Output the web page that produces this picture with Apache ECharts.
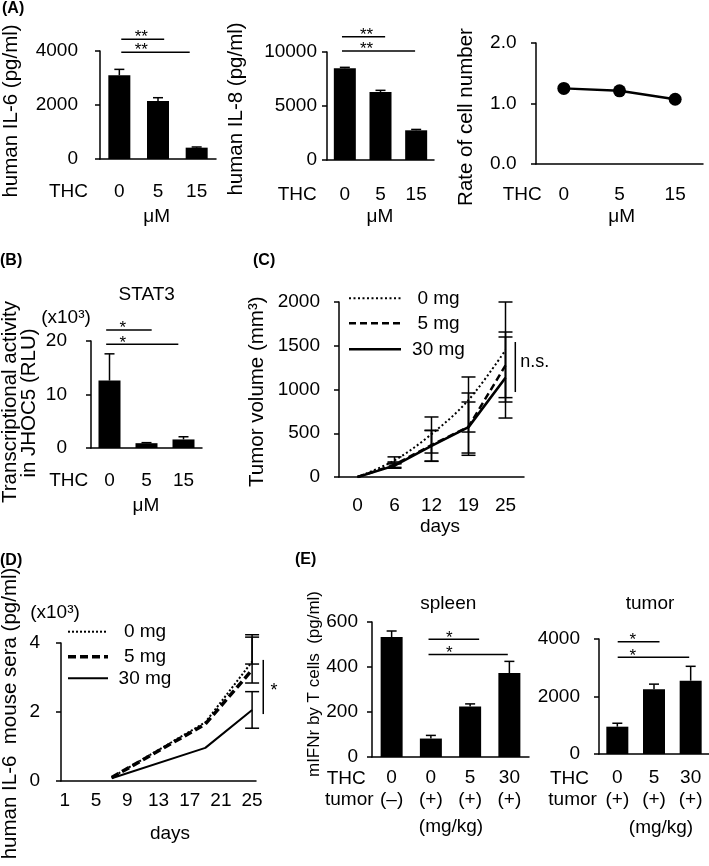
<!DOCTYPE html>
<html><head><meta charset="utf-8">
<script src="https://cdn.jsdelivr.net/npm/echarts@6/dist/echarts.min.js"></script>
<style>html,body{margin:0;padding:0;background:#fff}#c{width:709px;height:866px}</style>
</head><body><div id="c"></div>
<script>
// ================= DATA =================
// Panel A (THC, µM)
const aDoses = ['0', '5', '15'];
const aIL6 = [3100, 2150, 420];
const aIL6Sd = [220, 120, 25];
const aIL8 = [8500, 6300, 2750];
const aIL8Sd = [80, 150, 80];
const aRate = [1.25, 1.21, 1.07];
const aRateSd = [0.04, 0.04, 0.05];
// significance bars: [fromOffset, toOffset, yValue, starOffset] (offsets in category bands from first category)
const aIL6Sig = [[0.05, 1.16, 4433, 0.57], [0.05, 1.82, 3952, 0.57]];
const aIL8Sig = [[-0.08, 1.13, 11417, 0.61], [-0.08, 1.97, 10093, 0.61]];

// Panel B (STAT3)
const bDoses = ['0', '5', '15'];
const bStat3 = [12.6, 0.9, 1.6];
const bStat3Sd = [5.0, 0.1, 0.5];
const bSig = [[-0.09, 1.14, 22.06, 0.36], [-0.09, 1.86, 19.38, 0.36]];

// Panel C (tumor volume)
const cDays = ['0', '6', '12', '19', '25'];
const c0mg = [0, 190, 490, 880, 1450];
const c0mgLow = [0, 150, 274, 514, 907];
const c0mgHigh = [0, 230, 686, 1143, 2000];
const c5mg = [0, 140, 365, 575, 1275];
const c5mgLow = [0, 110, 182, 248, 857];
const c5mgHigh = [0, 172, 534, 960, 1657];
const c30mg = [0, 130, 355, 570, 1135];
const c30mgLow = [0, 100, 179, 274, 674];
const c30mgHigh = [0, 160, 530, 857, 1600];
const cSig = [[4, 971, 1543, 0.265]];

// Panel D (human IL-6 in mouse sera, x10^3 pg/ml)
const dAxisDays = ['1','2','3','4','5','6','7','8','9','10','11','12','13','14','15','16','17','18','19','20','21','22','23','24','25'];
const dDays = ['7', '19', '25'];
const d0mg = [0.1, 1.7, 3.46];
const d5mg = [0.1, 1.65, 3.22];
const d30mg = [0.08, 0.96, 2.06];
const dErrDay = '25';
const d0mgErr = [3.39, 4.24];
const d5mgErr = [2.84, 4.17];
const d30mgErr = [1.53, 2.59];
const dSig = [[24, 1.94, 3.51, 1.43]];

// Panel E (mIFNr by T cells)
const e1Thc = ['0', '0', '5', '30'];
const e1Tumor = ['(–)', '(+)', '(+)', '(+)'];
const e1Ifn = [533, 82, 225, 373];
const e1IfnSd = [27, 14, 11, 52];
const e1Sig = [[0.94, 2.23, 523, 1.47], [0.94, 2.96, 456, 1.47]];
const e2Thc = ['0', '5', '30'];
const e2Tumor = ['(+)', '(+)', '(+)'];
const e2Ifn = [950, 2250, 2550];
const e2IfnSd = [120, 180, 500];
const e2Sig = [[0.01, 1.15, 3906, 0.42], [0.01, 1.96, 3363, 0.42]];

// ================= STYLE / LAYOUT =================
const FONT = '"Liberation Sans", Arial, Helvetica, sans-serif';
const BLACK = '#000';
const grids = [
  {left: 100, top: 51, width: 116, height: 108},   // A1
  {left: 327, top: 52, width: 107, height: 108},   // A2
  {left: 536, top: 43, width: 167, height: 121},   // A3
  {left: 91, top: 341, width: 111, height: 107},   // B
  {left: 339, top: 302, width: 185, height: 175},  // C
  {left: 61, top: 643, width: 195, height: 138},   // D
  {left: 372, top: 622, width: 157, height: 135},  // E1
  {left: 599, top: 639, width: 110, height: 115}   // E2
];

function xCat(gi, data, margin, extra) {
  const ax = {
    type: 'category', gridIndex: gi, data: data, boundaryGap: true,
    axisLine: {show: true, onZero: false, lineStyle: {color: BLACK, width: 1.5}},
    axisTick: {show: false},
    splitLine: {show: false},
    axisLabel: {color: BLACK, fontFamily: FONT, fontSize: 19, lineHeight: 19, margin: margin, interval: 0}
  };
  if (extra) Object.assign(ax.axisLabel, extra);
  return ax;
}
function yVal(gi, max, interval, margin, fmt, fs) {
  return {
    type: 'value', gridIndex: gi, min: 0, max: max, interval: interval,
    axisLine: {show: true, lineStyle: {color: BLACK, width: 1.5}},
    axisTick: {show: true, length: 5, lineStyle: {color: BLACK, width: 1.5}},
    splitLine: {show: false},
    axisLabel: {color: BLACK, fontFamily: FONT, fontSize: fs || 19, margin: margin,
      formatter: fmt || (v => String(v))}
  };
}
function barSeries(gi, data) {
  return {type: 'bar', xAxisIndex: gi, yAxisIndex: gi, data: data, barWidth: 22,
    itemStyle: {color: BLACK}, silent: true, z: 2};
}
function errSeries(gi, rows, capW, both) {
  return {
    type: 'custom', xAxisIndex: gi, yAxisIndex: gi, clip: false, silent: true, z: 4,
    encode: {x: 0, y: [1, 2]}, data: rows,
    renderItem: function (params, api) {
      const x = api.value(0);
      const lo = api.coord([x, api.value(1)]);
      const hi = api.coord([x, api.value(2)]);
      const h = capW / 2;
      const st = {stroke: BLACK, lineWidth: 1.5};
      const ch = [
        {type: 'line', shape: {x1: lo[0], y1: lo[1], x2: hi[0], y2: hi[1]}, style: st},
        {type: 'line', shape: {x1: hi[0] - h, y1: hi[1], x2: hi[0] + h, y2: hi[1]}, style: st}
      ];
      if (both) ch.push({type: 'line', shape: {x1: lo[0] - h, y1: lo[1], x2: lo[0] + h, y2: lo[1]}, style: st});
      return {type: 'group', children: ch};
    }
  };
}
function sigH(gi, rows, label) {
  return {
    type: 'custom', xAxisIndex: gi, yAxisIndex: gi, clip: false, silent: true, z: 5,
    encode: {x: 0, y: 1},
    data: rows.map(r => [0, r[2], r[0], r[1], r[3]]),
    renderItem: function (params, api) {
      const base = api.coord([0, api.value(1)]);
      const bw = api.size([1, 0])[0];
      const x0 = base[0] + api.value(2) * bw;
      const x1 = base[0] + api.value(3) * bw;
      const sx = base[0] + api.value(4) * bw;
      const y = base[1];
      return {type: 'group', children: [
        {type: 'line', shape: {x1: x0, y1: y, x2: x1, y2: y}, style: {stroke: BLACK, lineWidth: 1.5}},
        {type: 'text', x: sx, y: y - 1.5, style: {text: label, fill: BLACK, font: '17px ' + FONT,
          align: 'center', verticalAlign: 'middle', textAlign: 'center', textVerticalAlign: 'middle'}}
      ]};
    }
  };
}
function sigV(gi, rows, label, dx, dy, align) {
  return {
    type: 'custom', xAxisIndex: gi, yAxisIndex: gi, clip: false, silent: true, z: 5,
    encode: {x: 0, y: [1, 2]}, data: rows,
    renderItem: function (params, api) {
      const p0 = api.coord([api.value(0), api.value(1)]);
      const p1 = api.coord([api.value(0), api.value(2)]);
      const bw = api.size([1, 0])[0];
      const x = p0[0] + api.value(3) * bw;
      const ym = (p0[1] + p1[1]) / 2;
      return {type: 'group', children: [
        {type: 'line', shape: {x1: x, y1: p0[1], x2: x, y2: p1[1]}, style: {stroke: BLACK, lineWidth: 1.5}},
        {type: 'text', x: x + dx, y: ym + dy, style: {text: label, fill: BLACK, font: '18px ' + FONT,
          align: align, verticalAlign: 'middle', textAlign: align, textVerticalAlign: 'middle'}}
      ]};
    }
  };
}
function lineSeries(gi, name, data, ls, smooth) {
  return {type: 'line', name: name, xAxisIndex: gi, yAxisIndex: gi, data: data, symbol: 'none',
    smooth: smooth || false, silent: true, z: 3,
    lineStyle: {color: BLACK, width: ls.width, type: ls.type}};
}

const cStyles = [{width: 2, type: [2, 2.5]}, {width: 2.5, type: [7, 4]}, {width: 2.6, type: 'solid'}];
const dStyles = [{width: 2, type: [2, 2]}, {width: 3.5, type: [8, 4]}, {width: 2, type: 'solid'}];
const legendNames = ['0 mg', '5 mg', '30 mg'];

// ================= SERIES =================
const series = [];
// A1
series.push(barSeries(0, aIL6));
series.push(errSeries(0, aDoses.map((d, i) => [i, aIL6[i], aIL6[i] + aIL6Sd[i]]), 10, false));
series.push(sigH(0, aIL6Sig, '**'));
// A2
series.push(barSeries(1, aIL8));
series.push(errSeries(1, aDoses.map((d, i) => [i, aIL8[i], aIL8[i] + aIL8Sd[i]]), 10, false));
series.push(sigH(1, aIL8Sig, '**'));
// A3
series.push(errSeries(2, aDoses.map((d, i) => [i, aRate[i] - aRateSd[i], aRate[i] + aRateSd[i]]), 8, true));
series.push({type: 'line', xAxisIndex: 2, yAxisIndex: 2, data: aRate, symbol: 'circle', symbolSize: 13,
  itemStyle: {color: BLACK}, lineStyle: {color: BLACK, width: 2.5}, silent: true, z: 5});
// B
series.push(barSeries(3, bStat3));
series.push(errSeries(3, bDoses.map((d, i) => [i, bStat3[i], bStat3[i] + bStat3Sd[i]]), 10, false));
series.push(sigH(3, bSig, '*'));
// C
series.push(lineSeries(4, '0 mg', c0mg, cStyles[0], 0.35));
series.push(lineSeries(4, '5 mg', c5mg, cStyles[1]));
series.push(lineSeries(4, '30 mg', c30mg, cStyles[2]));
[[c0mgLow, c0mgHigh], [c5mgLow, c5mgHigh], [c30mgLow, c30mgHigh]].forEach(function (p) {
  series.push(errSeries(4, cDays.map((d, i) => [i, p[0][i], p[1][i]]).filter(r => r[2] > r[1]), 14, true));
});
series.push(sigV(4, cSig, 'n.s.', 5, -5, 'left'));
// D
series.push(lineSeries(5, '0 mg', dDays.map((d, i) => [d, d0mg[i]]), dStyles[0]));
series.push(lineSeries(5, '5 mg', dDays.map((d, i) => [d, d5mg[i]]), dStyles[1]));
series.push(lineSeries(5, '30 mg', dDays.map((d, i) => [d, d30mg[i]]), dStyles[2]));
const dErrIdx = dAxisDays.indexOf(dErrDay);
series.push(errSeries(5, [d0mgErr, d5mgErr, d30mgErr].map(e => [dErrIdx, e[0], e[1]]), 14, true));
series.push(sigV(5, dSig, '*', 10.7, 4, 'center'));
// E1
series.push(barSeries(6, e1Ifn));
series.push(errSeries(6, e1Thc.map((d, i) => [i, e1Ifn[i], e1Ifn[i] + e1IfnSd[i]]), 10, false));
series.push(sigH(6, e1Sig, '*'));
// E2
series.push(barSeries(7, e2Ifn));
series.push(errSeries(7, e2Thc.map((d, i) => [i, e2Ifn[i], e2Ifn[i] + e2IfnSd[i]]), 10, false));
series.push(sigH(7, e2Sig, '*'));

// ================= AXES =================
const xAxes = [
  xCat(0, aDoses, 23),
  xCat(1, aDoses, 25.5),
  xCat(2, aDoses, 21.5),
  xCat(3, bDoses, 23.5),
  xCat(4, cDays, 19.5),
  xCat(5, dAxisDays, 10, {interval: 3}),
  xCat(6, e1Thc, 10, {lineHeight: 22, formatter: (v, i) => v + '\n' + e1Tumor[i]}),
  xCat(7, e2Thc, 13, {lineHeight: 22, formatter: (v, i) => v + '\n' + e2Tumor[i]})
];
const yAxes = [
  yVal(0, 4000, 2000, 22),
  yVal(1, 10000, 5000, 10),
  yVal(2, 2, 1, 19.5, v => v.toFixed(1)),
  yVal(3, 20, 10, 24),
  yVal(4, 2000, 500, 19),
  yVal(5, 4, 2, 21),
  yVal(6, 600, 200, 14),
  yVal(7, 4000, 2000, 19)
];

// ================= TEXT / ANNOTATIONS =================
function txt(t, x, y, o) {
  o = o || {};
  const size = o.size || 19;
  const el = {type: 'text', x: x, y: y, silent: true, z: 10,
    style: {text: t, fill: BLACK, font: (o.bold ? 'bold ' : '') + size + 'px ' + FONT,
      textAlign: o.align || 'center', textVerticalAlign: 'middle',
      align: o.align || 'center', verticalAlign: 'middle'}};
  if (o.rot) el.rotation = Math.PI / 2;
  return el;
}
const graphics = [
  txt('(A)', 2, 8.5, {align: 'left', bold: true, size: 16}),
  txt('(B)', 0, 261, {align: 'left', bold: true, size: 16}),
  txt('(C)', 253, 261, {align: 'left', bold: true, size: 16}),
  txt('(D)', 0, 561, {align: 'left', bold: true, size: 16}),
  txt('(E)', 295, 560, {align: 'left', bold: true, size: 16}),
  // y titles
  txt('human IL-6 (pg/ml)', 11, 111, {rot: true, size: 20.5}),
  txt('human IL-8 (pg/ml)', 236, 109, {rot: true, size: 20.5}),
  txt('Rate of cell number', 466, 117, {rot: true, size: 20.5}),
  txt('Transcriptional activity', 10, 402, {rot: true, size: 20.5}),
  txt('in JHOC5 (RLU)', 29.5, 403, {rot: true, size: 20.5}),
  txt('Tumor volume (mm³)', 257.5, 391.7, {rot: true, size: 20.5}),
  txt('human IL-6  mouse sera (pg/ml)', 10, 713.5, {rot: true, size: 20.5}),
  txt('mIFNr by T cells  (pg/ml)', 314, 684, {rot: true, size: 17}),
  // row labels
  txt('THC', 88, 191.7, {align: 'right'}),
  txt('THC', 316.7, 195, {align: 'right'}),
  txt('THC', 541.7, 195, {align: 'right'}),
  txt('THC', 88.3, 481, {align: 'right'}),
  txt('THC', 326.7, 778.3, {align: 'left'}),
  txt('tumor', 325, 800, {align: 'left'}),
  txt('THC', 550, 778.3, {align: 'left'}),
  txt('tumor', 548.3, 800, {align: 'left'}),
  // units
  txt('μM', 156.7, 216.7),
  txt('μM', 380, 216.7),
  txt('μM', 621.7, 217),
  txt('μM', 146, 506),
  txt('days', 440, 526.7),
  txt('days', 170, 834),
  txt('(mg/kg)', 451, 826.7),
  txt('(mg/kg)', 661, 828),
  // titles
  txt('STAT3', 146.7, 295),
  txt('spleen', 448.3, 603.3),
  txt('tumor', 650, 603.3),
  txt('(x10³)', 66, 318),
  txt('(x10³)', 55, 613)
];
// legends (C and D)
function legend(x0, x1, tx, ys, styles) {
  ys.forEach(function (y, i) {
    const t = styles[i].type;
    graphics.push({type: 'line', silent: true, z: 10, shape: {x1: x0, y1: y, x2: x1, y2: y},
      style: {stroke: BLACK, lineWidth: styles[i].width, lineDash: Array.isArray(t) ? t : null}});
    graphics.push(txt(legendNames[i], tx, y));
  });
}
legend(349, 401, 438.5, [298.3, 323.3, 349.3], cStyles);
legend(68, 108, 145, [631.7, 656.7, 678.3], dStyles);

const chart = echarts.init(document.getElementById('c'), null, {renderer: 'canvas'});
chart.setOption({
  animation: false,
  backgroundColor: '#fff',
  textStyle: {fontFamily: FONT},
  grid: grids.map(g => Object.assign({containLabel: false}, g)),
  xAxis: xAxes,
  yAxis: yAxes,
  series: series,
  graphic: {elements: graphics}
});
</script>
</body></html>
